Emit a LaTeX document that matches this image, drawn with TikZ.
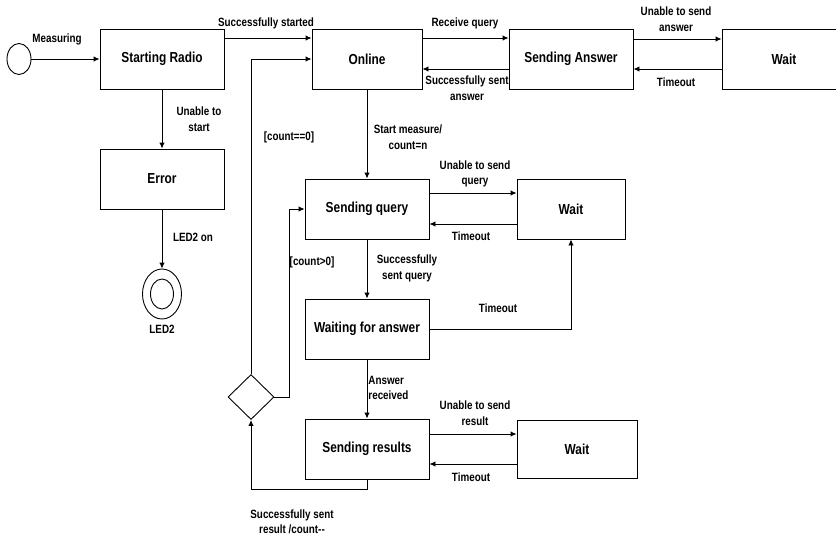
\documentclass[tikz,border=0pt]{standalone}
\usepackage{fontspec}
\setmainfont{Liberation Sans}[FakeStretch=0.82]
\usetikzlibrary{shapes.geometric, arrows.meta, positioning}

\begin{document}
\begin{tikzpicture}[x=1pt, y=-1pt, line width=0.9pt,
	state/.style={draw, minimum width=124pt, minimum height=60pt, inner sep=0pt,
		font=\fontsize{14.5}{17}\selectfont\bfseries},
	lbl/.style={font=\fontsize{12}{15.5}\selectfont\bfseries, align=center, inner sep=0pt},
	arr/.style={-{Latex[length=6pt,width=5.5pt]}}]
	\useasboundingbox (0,0) rectangle (836,536);
	\node[draw, ellipse, minimum width=24pt, minimum height=31pt, inner sep=0pt] (init) at (19,59) {};
	\node[state] (radio) at (162,59) {Starting Radio};
	\node[state, minimum width=110pt] (online) at (367,59) {Online};
	\node[state] (sanswer) at (571,59) {Sending Answer};
	\node[state] (waita) at (784,59) {Wait};
	\node[state] (error) at (162,179) {Error};
	\node[draw, ellipse, minimum width=39pt, minimum height=50pt, inner sep=0pt] (led) at (162,294) {};
	\node[draw, ellipse, minimum width=23pt, minimum height=30pt, inner sep=0pt] (ledin) at (162,294) {};
	\node[draw, diamond, minimum width=46pt, minimum height=45pt, inner sep=0pt] (dec) at (251,397) {};
	\node[state] (squery) at (367,209) {Sending query};
	\node[state, minimum width=108pt] (waitq) at (571,209) {Wait};
	\node[state] (waiting) at (367,329) {Waiting for answer};
	\node[state] (sresults) at (367,449) {Sending results};
	\node[state, minimum width=120pt, minimum height=58pt] (waitr) at (577,449) {Wait};

	\draw[arr] (init) -- (radio);
	\draw[arr] ([yshift=21pt]radio.east) -- ([yshift=21pt]online.west);
	\draw[arr] ([yshift=21pt]online.east) -- ([yshift=21pt]sanswer.west);
	\draw[arr] ([yshift=-10pt]sanswer.west) -- ([yshift=-10pt]online.east);
	\draw[arr] ([yshift=20pt]sanswer.east) -- ([yshift=20pt]waita.west);
	\draw[arr] ([yshift=-10pt]waita.west) -- ([yshift=-10pt]sanswer.east);
	\draw[arr] (radio) -- (error);
	\draw[arr] (error) -- (led);
	\draw[arr] (dec.north) |- (online.west);
	\draw[arr] (dec.east) -- ++(15,0) |- (squery.west);
	\draw[arr] (online) -- (squery);
	\draw[arr] ([yshift=16pt]squery.east) -- ([yshift=16pt]waitq.west);
	\draw[arr] ([yshift=-15pt]waitq.west) -- ([yshift=-15pt]squery.east);
	\draw[arr] (squery) -- (waiting);
	\draw[arr] (waiting.east) -| (waitq.south);
	\draw[arr] (waiting) -- (sresults);
	\draw[arr] ([yshift=15pt]sresults.east) -- ([yshift=15pt]waitr.west);
	\draw[arr] ([yshift=-15pt]waitr.west) -- ([yshift=-15pt]sresults.east);
	\draw[arr] (sresults.south) -- ++(0,10) -| (dec.south);

	\node[lbl] (l1) at (57,39) {Measuring};
	\node[lbl] (l2) at (266,23) {Successfully started};
	\node[lbl] (l3) at (465,23) {Receive query};
	\node[lbl] (l4) at (467,88) {Successfully sent\\answer};
	\node[lbl] (l5) at (676,19) {Unable to send\\answer};
	\node[lbl] (l6) at (676,82) {Timeout};
	\node[lbl] (l7) at (199,119) {Unable to\\start};
	\node[lbl] (l8) at (193,237) {LED2 on};
	\node[lbl] (l9) at (162,329) {LED2};
	\node[lbl] (l10) at (289,137) {[count==0]};
	\node[lbl] (l11) at (408,137) {Start measure/\\count=n};
	\node[lbl] (l12) at (312,262) {[count>0]};
	\node[lbl] (l13) at (475,174) {Unable to send\\query};
	\node[lbl] (l14) at (471,236) {Timeout};
	\node[lbl] (l15) at (407,268.5) {Successfully\\sent query};
	\node[lbl] (l16) at (498,308) {Timeout};
	\node[lbl, align=left, anchor=west] (l17) at (368,388) {Answer\\received};
	\node[lbl] (l18) at (475,413) {Unable to send\\result};
	\node[lbl] (l19) at (471,477) {Timeout};
	\node[lbl] (l20) at (292,522) {Successfully sent\\result /count{-}{-}};
\end{tikzpicture}
\end{document}
